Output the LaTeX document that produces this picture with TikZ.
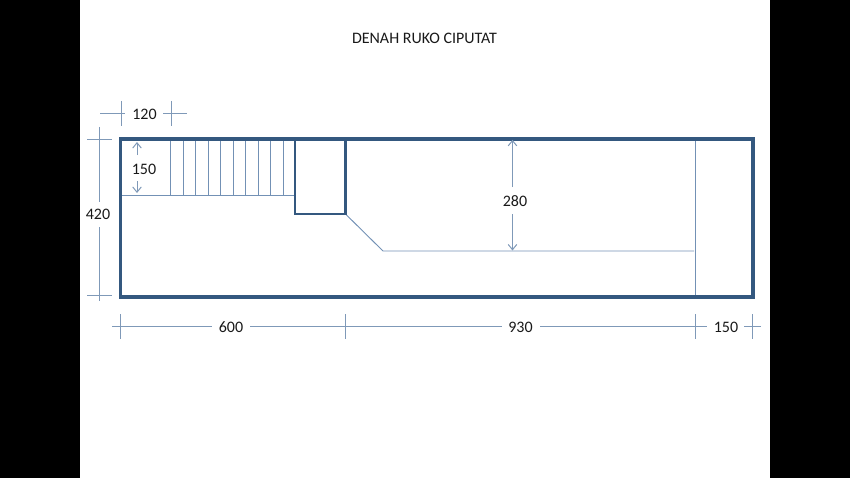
\documentclass[tikz,border=0pt]{standalone}
\usepackage{fontspec}
\setmainfont{Carlito}
\usetikzlibrary{arrows.meta}
\definecolor{wallc}{HTML}{34587F}
\definecolor{thinc}{HTML}{7391B5}
\definecolor{dimc}{HTML}{7F99B8}
\tikzset{
  wall/.style={draw=wallc,line width=2.6pt,line join=miter},
  inner wall/.style={draw=wallc,line width=1.6pt},
  thin line/.style={draw=thinc,line width=0.7pt},
  dim line/.style={draw=dimc,line width=0.75pt},
  dim arrow/.style={dim line,-{Straight Barb[length=4pt,width=6.5pt]}},
  dim label/.style={font=\fontsize{12pt}{14pt}\selectfont,text=black!90,inner sep=0pt},
}
\begin{document}
\begin{tikzpicture}[x=0.75pt,y=-0.75pt]
\useasboundingbox (0,0) rectangle (850,478);
\fill[black] (0,0) rectangle (80,478);
\fill[black] (770,0) rectangle (850,478);
% Labels
\node[font=\fontsize{12pt}{14pt}\selectfont,text=black!90,inner sep=0pt] (title) at (424.5,38.5) {DENAH RUKO CIPUTAT};
\node[dim label] (l120) at (144.5,114) {120};
\node[dim label] (l150a) at (144,169.5) {150};
\node[dim label] (l420) at (98,214.5) {420};
\node[dim label] (l280) at (515,201.5) {280};
\node[dim label] (l600) at (231,327.5) {600};
\node[dim label] (l930) at (520.5,327.5) {930};
\node[dim label] (l150b) at (726,327.5) {150};
% Plan
\coordinate (tl) at (120.5,139);
\coordinate (br) at (753,297);
\coordinate (rt) at (295,139);
\coordinate (rb) at (345.5,214);
\coordinate (rtr) at (345.5,139);
\coordinate (rbl) at (295,214);
\coordinate (sl) at (120.5,195);
\coordinate (sr) at (295,195);
\coordinate (kink) at (383,251);
\coordinate (kend) at (694,251);
\coordinate (pt) at (695.5,139);
\coordinate (pb) at (695.5,297);
\foreach \x in {170.5,183,195.5,208,220.5,233,245.5,258,270.5,283}
  \draw[thin line] (\x,139) -- (\x,195);
\draw[thin line] (sl) -- (sr);
\draw[thin line] (rb) -- (kink) -- (kend);
\draw[thin line] (pt) -- (pb);
\draw[inner wall] (rt) -- (rbl) -- (rb) -- (rtr);
\draw[wall] (tl) rectangle (br);
% Dimension 120
\coordinate (a1) at (121,101); \coordinate (a2) at (121,126);
\coordinate (a3) at (171,101); \coordinate (a4) at (171,126);
\coordinate (a5) at (100,113.5); \coordinate (a6) at (125,113.5);
\coordinate (a7) at (163,113.5); \coordinate (a8) at (187,113.5);
\draw[dim line] (a1) -- (a2);
\draw[dim line] (a3) -- (a4);
\draw[dim line] (a5) -- (a6);
\draw[dim line] (a7) -- (a8);
% Dimension 420
\coordinate (b1) at (99.5,127); \coordinate (b2) at (99.5,202);
\coordinate (b3) at (99.5,227); \coordinate (b4) at (99.5,301);
\coordinate (b5) at (87,139); \coordinate (b6) at (112,139);
\coordinate (b7) at (87,295.5); \coordinate (b8) at (112,295.5);
\draw[dim line] (b1) -- (b2);
\draw[dim line] (b3) -- (b4);
\draw[dim line] (b5) -- (b6);
\draw[dim line] (b7) -- (b8);
% Dimension 150 (inner)
\coordinate (c1) at (137,155); \coordinate (c2) at (137,142);
\coordinate (c3) at (137,181); \coordinate (c4) at (137,193);
\draw[dim arrow] (c1) -- (c2);
\draw[dim arrow] (c3) -- (c4);
% Dimension 280
\coordinate (d1) at (512.5,187); \coordinate (d2) at (512.5,139.8);
\coordinate (d3) at (512.5,214); \coordinate (d4) at (512.5,250.5);
\draw[dim arrow] (d1) -- (d2);
\draw[dim arrow] (d3) -- (d4);
% Bottom dimensions
\coordinate (e0) at (112,326.5); \coordinate (e1) at (212,326.5);
\coordinate (e2) at (250,326.5); \coordinate (e3) at (502,326.5);
\coordinate (e4) at (540,326.5); \coordinate (e5) at (707,326.5);
\coordinate (e6) at (744,326.5); \coordinate (e7) at (761,326.5);
\draw[dim line] (e0) -- (e1);
\draw[dim line] (e2) -- (e3);
\draw[dim line] (e4) -- (e5);
\draw[dim line] (e6) -- (e7);
\foreach \x in {120.5,345.5,695.5,752}
  \draw[dim line] (\x,314) -- (\x,339);
\end{tikzpicture}
\end{document}
